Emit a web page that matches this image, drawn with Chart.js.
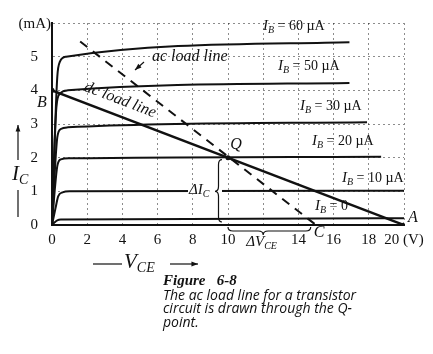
<!DOCTYPE html>
<html>
<head>
<meta charset="utf-8">
<script src="https://cdn.jsdelivr.net/npm/chart.js@4"></script>
<style>
  html, body { margin: 0; padding: 0; background: #fff; }
  canvas { display: block; }
</style>
</head>
<body>
<canvas id="myChart" width="433" height="354"></canvas>
<script>
// collector curves: V_CE (V) and I_C (mA) for each base current
const ib0V = [0, 0.15, 0.3, 0.5, 20];
const ib0I = [0, 0.08, 0.14, 0.16, 0.2];
const ib10V = [0, 0.2, 0.35, 0.6, 1.0, 20];
const ib10I = [0, 0.5, 0.85, 0.97, 1.0, 1.02];
const ib20V = [0, 0.15, 0.3, 0.5, 1.0, 18.7];
const ib20I = [0, 1.0, 1.75, 1.95, 1.98, 2.03];
const ib30V = [0, 0.15, 0.3, 0.5, 0.9, 17.9];
const ib30I = [0, 1.5, 2.6, 2.85, 2.9, 3.05];
const ib50V = [0, 0.12, 0.25, 0.45, 0.9, 16.9];
const ib50I = [0, 2.0, 3.5, 3.9, 4.0, 4.22];
const ib60V = [0, 0.15, 0.3, 0.45, 0.8, 16.9];
const ib60I = [0, 2.5, 4.4, 4.85, 5.0, 5.43];

// load lines
const dcV = [0, 20];
const dcI = [4, 0];
const acV = [1.6, 15];
const acI = [5.45, 0];

// marked points B, Q, A
const pointV = [0, 10, 20];
const pointI = [4, 2, 0];

const xTicks = [0, 2, 4, 6, 8, 10, 12, 14, 16, 18, 20];
const xTickLabels = ['0', '2', '4', '6', '8', '10', '', '14', '16', '18', '20 (V)'];
const yTicks = [0, 1, 2, 3, 4, 5, 6];
const yTickLabels = ['0', '1', '2', '3', '4', '5', ''];

const ibLabels = ['= 0', '= 10 \u00b5A', '= 20 \u00b5A', '= 30 \u00b5A', '= 50 \u00b5A', '= 60 \u00b5A'];

const SERIF = '"Liberation Serif", "DejaVu Serif", serif';

function pts(xs, ys) {
  return xs.map((x, i) => ({ x: x, y: ys[i] }));
}

function curve(xs, ys) {
  return {
    data: pts(xs, ys),
    showLine: true,
    borderColor: '#111',
    borderWidth: 2,
    pointRadius: 0,
    cubicInterpolationMode: 'monotone'
  };
}

// text with a subscript, e.g. I_B
function subText(ctx, main, sub, x, y, size, rest) {
  ctx.textAlign = 'left';
  ctx.textBaseline = 'middle';
  ctx.font = 'italic ' + size + 'px ' + SERIF;
  ctx.fillText(main, x, y);
  let w = ctx.measureText(main).width;
  ctx.font = 'italic ' + Math.round(size * 0.68) + 'px ' + SERIF;
  ctx.fillText(sub, x + w, y + size * 0.28);
  w += ctx.measureText(sub).width;
  if (rest) {
    ctx.font = (size - 1) + 'px ' + SERIF;
    ctx.fillText(' ' + rest, x + w, y);
  }
}

function arrow(ctx, x1, y1, x2, y2) {
  ctx.beginPath();
  ctx.moveTo(x1, y1);
  ctx.lineTo(x2, y2);
  ctx.stroke();
  const a = Math.atan2(y2 - y1, x2 - x1);
  ctx.beginPath();
  ctx.moveTo(x2, y2);
  ctx.lineTo(x2 - 7 * Math.cos(a - 0.35), y2 - 7 * Math.sin(a - 0.35));
  ctx.lineTo(x2 - 7 * Math.cos(a + 0.35), y2 - 7 * Math.sin(a + 0.35));
  ctx.closePath();
  ctx.fill();
}

const annotations = {
  id: 'annotations',
  afterDatasetsDraw(chart) {
    const ctx = chart.ctx;
    const xs = chart.scales.x;
    const ys = chart.scales.y;
    const px = v => xs.getPixelForValue(v);
    const py = v => ys.getPixelForValue(v);
    ctx.save();
    ctx.fillStyle = '#111';
    ctx.strokeStyle = '#111';
    ctx.lineWidth = 1.2;

    // unit
    ctx.font = '15px ' + SERIF;
    ctx.textAlign = 'right';
    ctx.textBaseline = 'middle';
    ctx.fillText('(mA)', px(0) - 1, py(6) + 1);

    // point letters
    ctx.font = 'italic 16px ' + SERIF;
    ctx.textAlign = 'center';
    ctx.fillText('B', px(0) - 10, py(4) + 12);
    ctx.fillText('Q', px(10) + 8, py(2) - 13);
    ctx.fillText('A', px(20) + 9, py(0) - 7);
    ctx.fillText('C', px(15) + 3, py(0) + 8);

    // base current labels
    subText(ctx, 'I', 'B', 263, 26, 15, ibLabels[5]);
    subText(ctx, 'I', 'B', 278, 66, 15, ibLabels[4]);
    subText(ctx, 'I', 'B', 300, 106, 15, ibLabels[3]);
    subText(ctx, 'I', 'B', 312, 141, 15, ibLabels[2]);
    subText(ctx, 'I', 'B', 342, 178, 15, ibLabels[1]);
    subText(ctx, 'I', 'B', 315, 206, 15, ibLabels[0]);

    // ac load line label and arrow
    ctx.font = 'italic 16px ' + SERIF;
    ctx.textAlign = 'left';
    ctx.fillText('ac load line', 152, 57);
    arrow(ctx, 144, 62, 135, 70);

    // dc load line label along the line
    const ang = Math.atan2(py(0) - py(4), px(20) - px(0));
    ctx.save();
    ctx.translate(120, 100);
    ctx.rotate(ang);
    ctx.textAlign = 'center';
    ctx.font = 'italic 16px ' + SERIF;
    ctx.fillText('dc load line', 0, 0);
    ctx.restore();

    // delta I_C with brace
    ctx.fillStyle = '#fff';
    ctx.fillRect(188, py(1) - 3, 34, 6);
    ctx.fillStyle = '#111';
    subText(ctx, '\u0394I', 'C', 189, py(1) - 1, 15);
    const bx = 222, by1 = py(2) + 2, by2 = py(0) - 3, bm = py(1), d = 7;
    ctx.beginPath();
    ctx.moveTo(bx, by1);
    ctx.quadraticCurveTo(bx - d / 2, by1, bx - d / 2, by1 + 5);
    ctx.lineTo(bx - d / 2, bm - 5);
    ctx.quadraticCurveTo(bx - d / 2, bm, bx - d, bm);
    ctx.quadraticCurveTo(bx - d / 2, bm, bx - d / 2, bm + 5);
    ctx.lineTo(bx - d / 2, by2 - 5);
    ctx.quadraticCurveTo(bx - d / 2, by2, bx, by2);
    ctx.stroke();

    // delta V_CE with brace
    const hx1 = px(10), hx2 = px(14.7), hm = px(12), hy = py(0) + 2, hd = 8;
    ctx.beginPath();
    ctx.moveTo(hx1, hy);
    ctx.quadraticCurveTo(hx1, hy + hd / 2, hx1 + 5, hy + hd / 2);
    ctx.lineTo(hm - 5, hy + hd / 2);
    ctx.quadraticCurveTo(hm, hy + hd / 2, hm, hy + hd);
    ctx.quadraticCurveTo(hm, hy + hd / 2, hm + 5, hy + hd / 2);
    ctx.lineTo(hx2 - 5, hy + hd / 2);
    ctx.quadraticCurveTo(hx2, hy + hd / 2, hx2, hy);
    ctx.stroke();
    subText(ctx, '\u0394V', 'CE', hm - 17, 242, 15);

    // axis titles with arrows
    subText(ctx, 'I', 'C', 12, 174, 21);
    ctx.beginPath();
    ctx.moveTo(18, 190);
    ctx.lineTo(18, 217);
    ctx.stroke();
    arrow(ctx, 18, 160, 18, 125);

    subText(ctx, 'V', 'CE', 124, 262, 21);
    ctx.beginPath();
    ctx.moveTo(93, 264);
    ctx.lineTo(122, 264);
    ctx.stroke();
    arrow(ctx, 170, 264, 198, 264);

    // caption
    ctx.textAlign = 'left';
    ctx.font = 'bold italic 15px ' + SERIF;
    ctx.fillText('Figure   6-8', 163, 281);
    ctx.font = 'italic 14px "Open Sans", sans-serif';
    ctx.fillText('The ac load line for a transistor', 163, 296);
    ctx.fillText('circuit is drawn through the Q-', 163, 309);
    ctx.fillText('point.', 163, 323);
    ctx.restore();
  }
};

const datasets = [
  curve(ib0V, ib0I),
  curve(ib10V, ib10I),
  curve(ib20V, ib20I),
  curve(ib30V, ib30I),
  curve(ib50V, ib50I),
  curve(ib60V, ib60I),
  {
    data: pts(dcV, dcI),
    showLine: true,
    borderColor: '#111',
    borderWidth: 2.5,
    pointRadius: 0
  },
  {
    data: pts(acV, acI),
    showLine: true,
    borderColor: '#111',
    borderWidth: 2,
    borderDash: [9, 7],
    pointRadius: 0
  },
  {
    data: pts(pointV, pointI),
    showLine: false,
    pointRadius: 2.5,
    pointBackgroundColor: '#111',
    pointBorderWidth: 0
  }
];

const ctx = document.getElementById('myChart').getContext('2d');
new Chart(ctx, {
  type: 'scatter',
  data: { datasets: datasets },
  plugins: [annotations],
  options: {
    responsive: false,
    animation: false,
    layout: { padding: { top: 13, right: 29, left: 0, bottom: 0 } },
    plugins: { legend: { display: false }, tooltip: { enabled: false } },
    scales: {
      x: {
        type: 'linear',
        min: 0,
        max: 20,
        afterBuildTicks: s => { s.ticks = xTicks.map(v => ({ value: v })); },
        afterFit: s => { s.height = 129; },
        ticks: {
          color: '#111',
          padding: 6,
          maxRotation: 0,
          autoSkip: false,
          font: { family: SERIF, size: 15 },
          callback: v => xTickLabels[xTicks.indexOf(v)]
        },
        grid: { color: 'rgba(0,0,0,0.45)', lineWidth: 1, drawTicks: false },
        border: { color: '#111', width: 2, dash: [2, 3] }
      },
      y: {
        type: 'linear',
        min: 0,
        max: 6,
        afterBuildTicks: s => { s.ticks = yTicks.map(v => ({ value: v })); },
        afterFit: s => { s.width = 52; },
        ticks: {
          color: '#111',
          padding: 14,
          font: { family: SERIF, size: 15 },
          callback: v => yTickLabels[yTicks.indexOf(v)]
        },
        grid: { color: 'rgba(0,0,0,0.45)', lineWidth: 1, drawTicks: false },
        border: { color: '#111', width: 2, dash: [2, 3] }
      }
    }
  }
});
</script>
</body>
</html>
